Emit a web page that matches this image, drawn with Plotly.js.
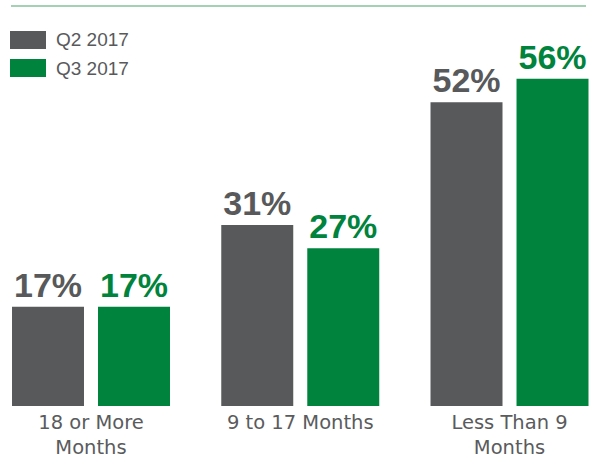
<!DOCTYPE html>
<html>
<head>
<meta charset="utf-8">
<script src="https://cdn.plot.ly/plotly-3.0.1.min.js"></script>
<style>html,body{margin:0;padding:0;background:#fff;}#chart{width:593px;height:454px;}</style>
</head>
<body>
<div id="chart"></div>
<script>
const categories = ["18 or More<br>Months", "9 to 17 Months", "Less Than 9<br>Months"];
const seriesNames = ["Q2 2017", "Q3 2017"];
const q2Values = [17, 31, 52];
const q3Values = [17, 27, 56];
const colors = ["#58595b", "#00843d"];

const FONT = "Liberation Sans, Arial, sans-serif";
const TICKFONT = "DejaVu Sans, sans-serif";
const valueSets = [q2Values, q3Values];

const traces = valueSets.map((vals, i) => ({
  type: "bar",
  name: seriesNames[i],
  x: categories,
  y: vals,
  marker: {color: colors[i]},
  text: vals.map(v => v + "%"),
  textposition: "outside",
  cliponaxis: false,
  textfont: {family: FONT, size: 34, color: colors[i], weight: "bold"},
  hoverinfo: "none"
}));

const plotH = 406;
const pxY = py => (plotH - py) / plotH;
const pxX = px => px / 593;

const shapes = [
  {type: "line", xref: "paper", yref: "paper", x0: pxX(11), x1: pxX(586), y0: pxY(6), y1: pxY(6),
   line: {color: "#86c29a", width: 1.5}},
  {type: "rect", xref: "paper", yref: "paper", x0: pxX(10), x1: pxX(46), y0: pxY(49), y1: pxY(31),
   fillcolor: colors[0], line: {width: 0}},
  {type: "rect", xref: "paper", yref: "paper", x0: pxX(10), x1: pxX(46), y0: pxY(77), y1: pxY(59),
   fillcolor: colors[1], line: {width: 0}}
];

const annotations = seriesNames.map((n, i) => ({
  xref: "paper", yref: "paper", x: pxX(54), y: pxY(i === 0 ? 40 : 68),
  xanchor: "left", yanchor: "middle", showarrow: false, text: n,
  font: {family: FONT, size: 19, color: "#58595b"}
}));

const layout = {
  width: 593, height: 454,
  margin: {l: 0, r: 0, t: 0, b: 48, pad: 0},
  paper_bgcolor: "#fff", plot_bgcolor: "#fff",
  barmode: "group",
  bargap: 0.178,
  bargroupgap: 0.163,
  showlegend: false,
  xaxis: {
    range: [-0.4349, 2.399],
    showgrid: false, zeroline: false, showline: false, ticks: "",
    ticklabelstandoff: 2,
    tickfont: {family: TICKFONT, size: 19.5, color: "#5a5b5d"},
    fixedrange: true
  },
  yaxis: {
    range: [0, 69.5], visible: false, showgrid: false, zeroline: false, fixedrange: true
  },
  shapes: shapes,
  annotations: annotations
};

Plotly.newPlot("chart", traces, layout, {displayModeBar: false, staticPlot: true});
</script>
</body>
</html>
